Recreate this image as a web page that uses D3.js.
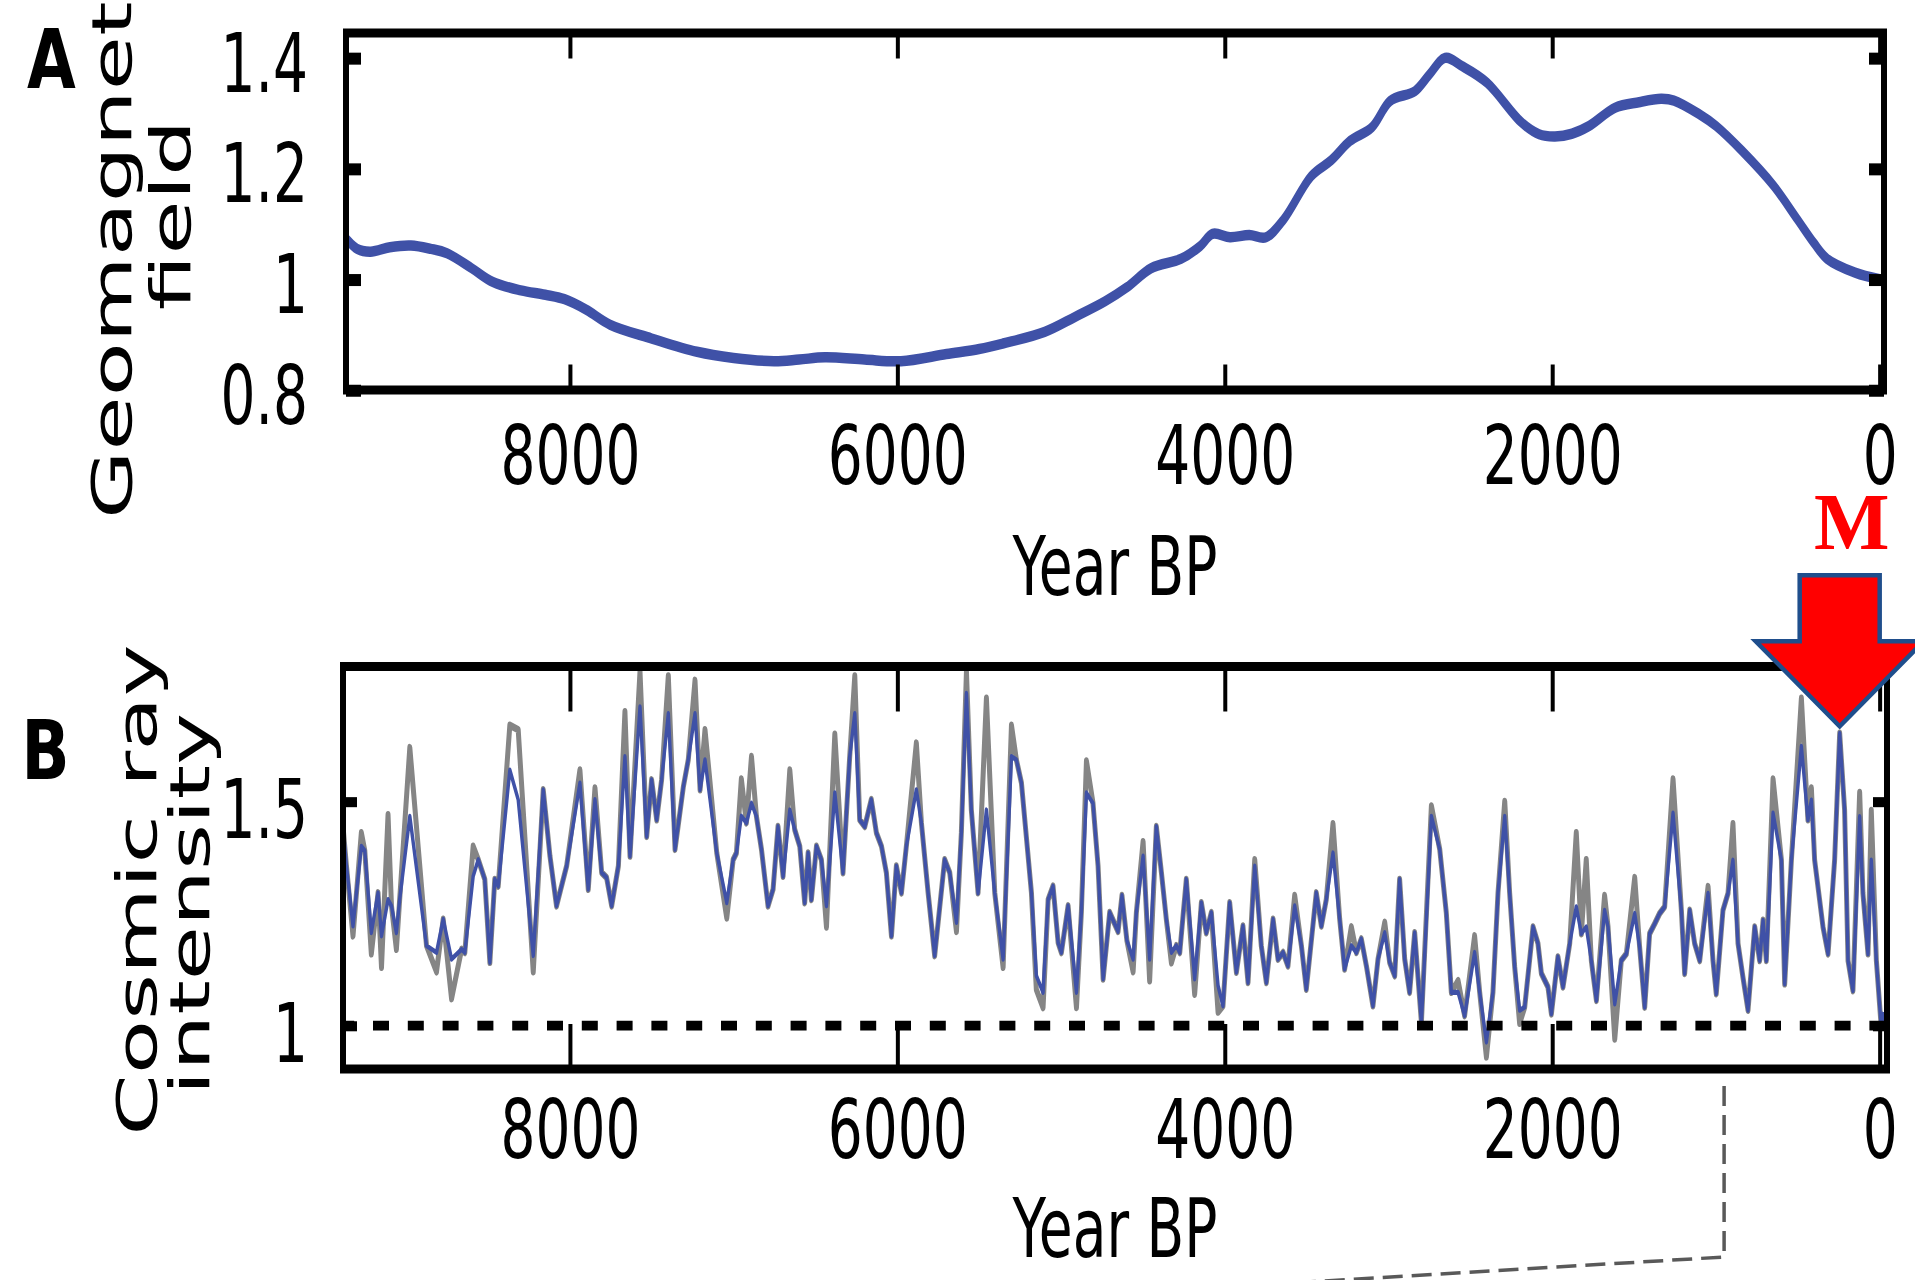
<!DOCTYPE html>
<html>
<head>
<meta charset="utf-8">
<script src="https://cdn.jsdelivr.net/npm/d3@7"></script>
<style>
  html, body { margin: 0; padding: 0; background: #fff; }
  svg { display: block; }
</style>
</head>
<body>
<svg id="chart" width="1915" height="1280"></svg>
<script>
// ---------------- data ----------------
const xTicks = [8000, 6000, 4000, 2000, 0];
const xTickLabels = ["8000", "6000", "4000", "2000", "0"];
const fieldTicks = [0.8, 1, 1.2, 1.4];
const fieldTickLabels = ["0.8", "1", "1.2", "1.4"];
const cosmicTicks = [1, 1.5];
const cosmicTickLabels = ["1", "1.5"];

// Panel A: geomagnetic field (normalised), years BP
const fieldYears = [
  9380, 9300, 9218, 9100, 8971, 8850, 8751, 8600, 8470, 8300,
  8150, 8033, 7900, 7755, 7500, 7224, 7000, 6753, 6600, 6442,
  6200, 5978, 5700, 5500, 5355, 5100, 4915, 4732, 4600, 4450,
  4267, 4150, 4075, 3968, 3850, 3748, 3638, 3473, 3350, 3235,
  3100, 2991, 2838, 2750, 2655, 2550, 2398, 2190, 2080, 1983,
  1880, 1775, 1616, 1470, 1335, 1256, 1100, 999, 840, 650,
  504, 400, 321, 150, 0
];
const fieldValues = [
  1.078, 1.055, 1.050, 1.058, 1.061, 1.055, 1.047, 1.020, 0.995, 0.980,
  0.972, 0.964, 0.945, 0.918, 0.893, 0.869, 0.858, 0.852, 0.855, 0.859,
  0.855, 0.852, 0.865, 0.874, 0.884, 0.905, 0.932, 0.960, 0.985, 1.020,
  1.037, 1.060, 1.082, 1.076, 1.080, 1.076, 1.109, 1.186, 1.215, 1.250,
  1.275, 1.322, 1.340, 1.370, 1.400, 1.385, 1.355, 1.284, 1.262, 1.258,
  1.263, 1.277, 1.310, 1.320, 1.326, 1.323, 1.298, 1.277, 1.232, 1.170,
  1.109, 1.065, 1.037, 1.012, 1.000
];

// Panel B: cosmic ray intensity (normalised), years BP
const cosmicYears = [
  9385, 9365, 9325, 9274, 9253, 9213, 9172, 9151, 9111, 9090,
  9060, 9040, 8978, 8876, 8815, 8774, 8723, 8662, 8642, 8591,
  8560, 8520, 8489, 8459, 8438, 8367, 8316, 8224, 8163, 8122,
  8082, 8020, 7939, 7888, 7847, 7806, 7776, 7745, 7704, 7664,
  7633, 7572, 7531, 7501, 7470, 7440, 7399, 7358, 7307, 7277,
  7236, 7205, 7175, 7103, 7042, 7003, 6983, 6953, 6922, 6891,
  6861, 6830, 6790, 6759, 6729, 6698, 6657, 6627, 6596, 6566,
  6545, 6525, 6494, 6464, 6433, 6382, 6332, 6291, 6260, 6230,
  6199, 6159, 6128, 6097, 6067, 6036, 6006, 5975, 5945, 5884,
  5853, 5812, 5772, 5711, 5680, 5639, 5609, 5578, 5548, 5507,
  5456, 5405, 5354, 5303, 5273, 5242, 5181, 5151, 5110, 5079,
  5049, 5018, 4998, 4957, 4906, 4876, 4845, 4805, 4774, 4743,
  4703, 4652, 4628, 4598, 4560, 4540, 4499, 4459, 4418, 4387,
  4357, 4326, 4296, 4275, 4235, 4184, 4143, 4113, 4082, 4041,
  4011, 3970, 3929, 3889, 3858, 3817, 3777, 3746, 3705, 3675,
  3644, 3614, 3573, 3532, 3502, 3441, 3410, 3380, 3339, 3298,
  3268, 3227, 3196, 3166, 3135, 3095, 3064, 3023, 2993, 2962,
  2932, 2901, 2871, 2840, 2799, 2738, 2687, 2647, 2616, 2575,
  2535, 2474, 2443, 2402, 2362, 2331, 2290, 2260, 2229, 2199,
  2168, 2117, 2087, 2066, 2026, 2005, 1965, 1934, 1893, 1853,
  1822, 1792, 1761, 1730, 1680, 1659, 1618, 1578, 1547, 1496,
  1466, 1435, 1405, 1374, 1344, 1313, 1262, 1211, 1191, 1160,
  1130, 1099, 1048, 1018, 998, 957, 926, 896, 865, 835,
  804, 763, 733, 712, 692, 651, 600, 580, 539, 478,
  438, 417, 397, 346, 315, 275, 244, 214, 193, 163,
  122, 102, 71, 51, 20, -10, -25
];
const cosmicValues = [
  1.440, 1.356, 1.222, 1.400, 1.390, 1.207, 1.296, 1.200, 1.281, 1.267,
  1.207, 1.281, 1.467, 1.178, 1.163, 1.237, 1.148, 1.170, 1.163, 1.333,
  1.370, 1.326, 1.141, 1.326, 1.311, 1.570, 1.504, 1.156, 1.526, 1.378,
  1.267, 1.356, 1.541, 1.304, 1.504, 1.341, 1.330, 1.267, 1.356, 1.600,
  1.378, 1.711, 1.422, 1.548, 1.459, 1.548, 1.696, 1.393, 1.533, 1.593,
  1.696, 1.526, 1.593, 1.385, 1.274, 1.370, 1.385, 1.467, 1.452, 1.496,
  1.467, 1.393, 1.267, 1.304, 1.444, 1.333, 1.481, 1.437, 1.400, 1.274,
  1.385, 1.281, 1.400, 1.370, 1.267, 1.519, 1.341, 1.600, 1.696, 1.459,
  1.444, 1.504, 1.430, 1.400, 1.341, 1.200, 1.356, 1.296, 1.400, 1.526,
  1.452, 1.296, 1.156, 1.370, 1.341, 1.230, 1.430, 1.741, 1.481, 1.296,
  1.481, 1.296, 1.148, 1.600, 1.593, 1.541, 1.296, 1.111, 1.074, 1.281,
  1.311, 1.185, 1.163, 1.267, 1.074, 1.252, 1.519, 1.496, 1.356, 1.104,
  1.252, 1.210, 1.290, 1.190, 1.148, 1.252, 1.378, 1.148, 1.444, 1.341,
  1.237, 1.163, 1.178, 1.163, 1.326, 1.104, 1.274, 1.207, 1.252, 1.089,
  1.044, 1.274, 1.119, 1.222, 1.096, 1.356, 1.178, 1.096, 1.237, 1.148,
  1.163, 1.133, 1.267, 1.178, 1.081, 1.296, 1.222, 1.281, 1.385, 1.237,
  1.126, 1.178, 1.163, 1.193, 1.133, 1.044, 1.148, 1.207, 1.141, 1.111,
  1.326, 1.148, 1.074, 1.207, 1.007, 1.467, 1.393, 1.252, 1.074, 1.074,
  1.022, 1.163, 1.074, 0.963, 1.074, 1.296, 1.467, 1.296, 1.130, 1.034,
  1.041, 1.220, 1.183, 1.116, 1.086, 1.026, 1.153, 1.086, 1.183, 1.265,
  1.205, 1.220, 1.145, 1.056, 1.257, 1.220, 1.048, 1.145, 1.160, 1.250,
  1.175, 1.041, 1.205, 1.227, 1.250, 1.265, 1.474, 1.257, 1.116, 1.257,
  1.183, 1.145, 1.295, 1.145, 1.071, 1.257, 1.295, 1.369, 1.183, 1.108,
  1.034, 1.220, 1.145, 1.235, 1.145, 1.474, 1.369, 1.093, 1.369, 1.623,
  1.459, 1.503, 1.369, 1.220, 1.160, 1.369, 1.652, 1.481, 1.145, 1.078,
  1.466, 1.295, 1.160, 1.369, 1.145, 0.996, 1.030
];

// Extremes of the grey uncertainty envelope where it departs from the mean curve
const grayYears = [
  9325, 9274, 9213, 9151, 9111, 9060, 8978, 8815, 8723, 8591,
  8367, 8316, 8224, 7939, 7847, 7664, 7572, 7399, 7236, 7175,
  7042, 6953, 6891, 6657, 6433, 6382, 6260, 5884, 5639, 5578,
  5456, 5354, 5303, 5151, 5110, 4906, 4845, 4560, 4499, 4459,
  4326, 4184, 4041, 3817, 3573, 3339, 3227, 3023, 2738, 2575,
  2474, 2402, 2290, 2199, 1853, 1792, 1680, 1618, 1496, 1262,
  1048, 896, 651, 478, 417, 122, 51
];
const grayValues = [
  1.20, 1.43, 1.16, 1.13, 1.47, 1.17, 1.62, 1.12, 1.06, 1.40,
  1.67, 1.66, 1.12, 1.57, 1.53, 1.70, 1.79, 1.78, 1.77, 1.66,
  1.24, 1.55, 1.60, 1.57, 1.22, 1.65, 1.78, 1.63, 1.21, 1.79,
  1.73, 1.13, 1.67, 1.08, 1.04, 1.04, 1.59, 1.12, 1.41, 1.10,
  1.14, 1.07, 1.03, 1.37, 1.29, 1.45, 1.22, 1.23, 1.49, 1.10,
  1.20, 0.93, 1.50, 1.005, 1.43, 1.37, 1.29, 0.97, 1.33, 1.55,
  1.31, 1.45, 1.55, 1.73, 1.53, 1.52, 1.48
];

// Annotated peak marker and zoom connector year
const markerYear = 244;
const markerValue = 1.652;
const connectorYear = 950;

// ---------------- layout ----------------
const SY = 1.5;                       // vertical stretch of the whole figure
const FONT = "'DejaVu Sans', 'Bitstream Vera Sans', sans-serif";
const BLUE = "#3f51a7";
const GRAY = "#858585";

const svg = d3.select("#chart");
svg.append("rect").attr("width", 1915).attr("height", 1280).attr("fill", "#fff");
const root = svg.append("g").attr("transform", `scale(1,${SY})`);

const x = d3.scaleLinear().domain([9380, -45]).range([344, 1887]);

const frameA = { left: 346, right: 1884, top: 33 / SY, bottom: 390 / SY };
const frameB = { left: 343, right: 1887, top: 666.5 / SY, bottom: 1069 / SY };

const yA = d3.scaleLinear().domain([0.8, 1.445]).range([frameA.bottom, frameA.top]);
const yB = d3.scaleLinear().domain([0.903, 1.801]).range([frameB.bottom, frameB.top]);

const fieldData = fieldYears.map((yr, i) => ({ year: yr, value: fieldValues[i] }));
const cosmicData = cosmicYears.map((yr, i) => ({ year: yr, value: cosmicValues[i] }));
const grayMap = new Map(grayYears.map((yr, i) => [yr, grayValues[i]]));
const grayData = cosmicYears.map((yr, i) => ({
  year: yr, value: grayMap.has(yr) ? grayMap.get(yr) : cosmicValues[i]
}));

function addClip(id, f) {
  svg.append("defs").append("clipPath").attr("id", id)
    .append("rect")
    .attr("x", f.left).attr("y", f.top)
    .attr("width", f.right - f.left).attr("height", f.bottom - f.top);
}
addClip("clipA", frameA);
addClip("clipB", frameB);

function drawAxes(f, y, yTicks, yLabels, o) {
  const g = root.append("g");
  const styleGroup = sel => sel.attr("font-family", FONT).attr("font-size", 55);

  const bottom = g.append("g").attr("transform", `translate(0,${f.bottom})`)
    .call(d3.axisBottom(x).tickValues(xTicks).tickFormat((d, i) => xTickLabels[i])
      .tickSizeInner(-o.xTickLen).tickSizeOuter(0))
    .call(styleGroup);
  bottom.selectAll("text").attr("y", o.xLabelBaseline - f.bottom).attr("dy", null).attr("fill", "#000");

  const top = g.append("g").attr("transform", `translate(0,${f.top})`)
    .call(d3.axisTop(x).tickValues(xTicks).tickFormat("")
      .tickSizeInner(-o.xTickLen).tickSizeOuter(0));

  const left = g.append("g").attr("transform", `translate(${f.left},0)`)
    .call(d3.axisLeft(y).tickValues(yTicks).tickFormat((d, i) => yLabels[i])
      .tickSizeInner(-o.yTickLen).tickSizeOuter(0))
    .call(styleGroup);
  left.selectAll("text").attr("x", o.yLabelRight - f.left).attr("y", o.yLabelShift)
    .attr("dy", null).attr("fill", "#000");

  const right = g.append("g").attr("transform", `translate(${f.right},0)`)
    .call(d3.axisRight(y).tickValues(yTicks).tickFormat("")
      .tickSizeInner(-o.yTickLen).tickSizeOuter(0));

  [bottom, top, left, right].forEach(a => a.select(".domain").remove());
  [bottom, top].forEach(a => a.selectAll("line").attr("stroke", "#000").attr("stroke-width", 4));
  [left, right].forEach(a => a.selectAll("line").attr("stroke", "#000").attr("stroke-width", o.yTickWidth));

  g.append("rect")
    .attr("x", f.left).attr("y", f.top)
    .attr("width", f.right - f.left).attr("height", f.bottom - f.top)
    .attr("fill", "none").attr("stroke", "#000").attr("stroke-width", 6);

  g.append("text")
    .attr("x", (f.left + f.right) / 2).attr("y", o.titleBaseline)
    .attr("text-anchor", "middle").attr("font-family", FONT).attr("font-size", 55)
    .text("Year BP");
}

// ---------------- panel A ----------------
root.append("path")
  .datum(fieldData)
  .attr("clip-path", "url(#clipA)")
  .attr("fill", "none").attr("stroke", BLUE).attr("stroke-width", 7)
  .attr("stroke-linejoin", "round").attr("stroke-linecap", "round")
  .attr("d", d3.line().x(d => x(d.year)).y(d => yA(d.value)).curve(d3.curveCatmullRom.alpha(0.5)));

drawAxes(frameA, yA, fieldTicks, fieldTickLabels, {
  xTickLen: 17, yTickLen: 15, yTickWidth: 8,
  xLabelBaseline: 484 / SY, yLabelRight: 308, yLabelShift: 22,
  titleBaseline: 595 / SY
});

// ---------------- panel B ----------------
const lineB = d3.line().x(d => x(d.year)).y(d => yB(d.value));
root.append("path")
  .datum(grayData)
  .attr("clip-path", "url(#clipB)")
  .attr("fill", "none").attr("stroke", GRAY).attr("stroke-width", 5)
  .attr("stroke-linejoin", "round")
  .attr("d", lineB);
root.append("path")
  .datum(cosmicData)
  .attr("clip-path", "url(#clipB)")
  .attr("fill", "none").attr("stroke", BLUE).attr("stroke-width", 3.4)
  .attr("stroke-linejoin", "round")
  .attr("d", lineB);

// reference level
root.append("line")
  .attr("x1", frameB.left).attr("x2", frameB.right)
  .attr("y1", yB(1)).attr("y2", yB(1))
  .attr("stroke", "#000").attr("stroke-width", 6.5)
  .attr("stroke-dasharray", "16 18.8").attr("stroke-dashoffset", 4.8);

drawAxes(frameB, yB, cosmicTicks, cosmicTickLabels, {
  xTickLen: 30, yTickLen: 14, yTickWidth: 6.7,
  xLabelBaseline: 1158 / SY, yLabelRight: 308, yLabelShift: 24,
  titleBaseline: 1257 / SY
});

// ---------------- axis titles and panel letters ----------------
function vlabel(text, bx, by, anchor) {
  root.append("text")
    .attr("transform", `translate(${bx},${by / SY}) rotate(-90) scale(1.07,1)`)
    .attr("text-anchor", anchor)
    .attr("font-family", FONT).attr("font-size", 55)
    .text(text);
}
vlabel("Geomagnet", 131, 519, "start");
vlabel("field", 190, 215, "middle");
vlabel("Cosmic ray", 156, 890, "middle");
vlabel("intensity", 209, 904, "middle");

function letter(t, lx, by) {
  root.append("text")
    .attr("transform", `translate(${lx},${by / SY}) scale(1,0.867)`)
    .attr("font-family", FONT).attr("font-weight", "bold").attr("font-size", 63)
    .text(t);
}
letter("A", 27, 88);
letter("B", 21.5, 779);

// ---------------- annotations ----------------
const tipX = x(markerYear);
const tipY = yB(markerValue) * SY - 7;
const arrow = [
  [tipX - 40, tipY - 151], [tipX + 40, tipY - 151], [tipX + 40, tipY - 85],
  [tipX + 84, tipY - 85], [tipX, tipY], [tipX - 84, tipY - 85], [tipX - 40, tipY - 85]
];
svg.append("polygon")
  .attr("points", arrow.map(p => p.join(",")).join(" "))
  .attr("fill", "#ff0000").attr("stroke", "#1f4e8c").attr("stroke-width", 4.5)
  .attr("stroke-linejoin", "miter");

svg.append("text")
  .attr("x", tipX + 12).attr("y", 549)
  .attr("text-anchor", "middle")
  .attr("font-family", "'Liberation Serif', 'Times New Roman', serif")
  .attr("font-weight", "bold").attr("font-size", 80)
  .attr("fill", "#ff0000")
  .text("M");

const cx = x(connectorYear);
svg.append("path")
  .attr("d", `M${cx},1086 L${cx},1257 L1240,1286`)
  .attr("fill", "none").attr("stroke", "#595959").attr("stroke-width", 3.5)
  .attr("stroke-dasharray", "20 9");
</script>
</body>
</html>
